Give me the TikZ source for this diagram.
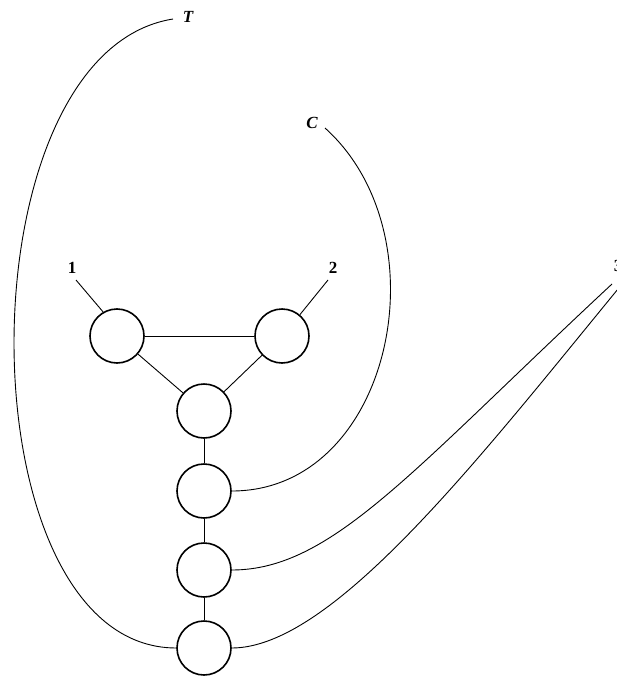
\documentclass[tikz,border=0pt]{standalone}
\usepackage{fontspec}
\setmainfont{Liberation Serif}
\usepackage{tikz}
\usetikzlibrary{positioning}

\begin{document}
\begin{tikzpicture}[x=1pt, y=-1pt,
  atom/.style={draw, circle, minimum size=54pt, inner sep=0pt, line width=1.6pt},
  bond/.style={line width=0.9pt},
  lab/.style={font=\fontsize{17}{19}\selectfont\bfseries, inner sep=0pt}]
\useasboundingbox (0,0) rectangle (617,677);
% ring and chain
\node[atom] (c1) at (117,336) {};
\node[atom] (c2) at (282,336) {};
\node[atom] (c3) at (204,411) {};
\node[atom] (c4) at (204,491) {};
\node[atom] (c5) at (204,570) {};
\node[atom] (c6) at (204,648) {};
% labels
\node[lab] (one) at (72,268) {1};
\node[lab] (two) at (333,268) {2};
\node[lab] (tee) at (188,17) {\itshape T};
\node[lab] (cee) at (312,123) {\itshape C};
\node[lab] (three) at (618,266) {3};
\coordinate (l1) at (76,280);
\coordinate (l2) at (328,280);
\coordinate (t0) at (173,19);
\coordinate (k0) at (325,128);
\coordinate (s0) at (612,284);
\coordinate (s1) at (618,289);
% bonds
\draw[bond] (c1) -- (c2);
\draw[bond] (c1) -- (c3);
\draw[bond] (c2) -- (c3);
\draw[bond] (c3) -- (c4);
\draw[bond] (c4) -- (c5);
\draw[bond] (c5) -- (c6);
\draw[bond] (l1) -- (c1.120);
\draw[bond] (l2) -- (c2.50);
% long leads
\draw[bond] (t0) .. controls (-41,53) and (-38,648) .. (c6.west);
\draw[bond] (k0) .. controls (445,236) and (392,491) .. (c4.east);
\draw[bond] (s0) .. controls (412,470) and (332,570) .. (c5.east);
\draw[bond] (s1) .. controls (477,461) and (332,648) .. (c6.east);
\end{tikzpicture}
\end{document}
